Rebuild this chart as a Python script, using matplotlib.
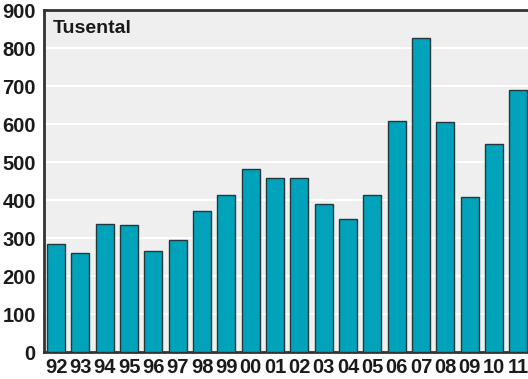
import numpy as np
import matplotlib
matplotlib.use('Agg')
import matplotlib.pyplot as plt

# years (two-digit labels) and values in thousands
years = ["92", "93", "94", "95", "96", "97", "98", "99", "00", "01",
         "02", "03", "04", "05", "06", "07", "08", "09", "10", "11"]
values = [284, 260, 337, 334, 266, 295, 371, 413, 481, 458,
          458, 389, 350, 413, 608, 826, 605, 408, 547, 689]
yticks = [0, 100, 200, 300, 400, 500, 600, 700, 800, 900]

plt.rcParams['font.family'] = ['Liberation Sans', 'DejaVu Sans']

fig = plt.figure(figsize=(5.28, 3.79), dpi=100)
ax = fig.add_axes([44 / 528, 27 / 379, 1 - 44 / 528, 342 / 379])
ax.set_facecolor('#efefef')

x = np.arange(len(years))
ax.bar(x, values, width=0.74, color='#00a3b9', edgecolor='#23383d', linewidth=1.0, zorder=3)

ax.set_ylim(0, 900)
ax.set_xlim(-0.5, len(years) - 0.6)
ax.set_yticks(yticks)
ax.yaxis.grid(True, color='white', linewidth=1.5, zorder=1)
ax.set_axisbelow(True)

ax.set_xticks(x)
ax.set_xticklabels(years)
ax.tick_params(axis='both', length=0, labelsize=14.5, colors='#1a1a1a')
ax.tick_params(axis='x', pad=4)
ax.tick_params(axis='y', pad=6)
for lab in ax.get_xticklabels() + ax.get_yticklabels():
    lab.set_fontweight('bold')

for side in ['left', 'top', 'bottom']:
    ax.spines[side].set_color('#333333')
    ax.spines[side].set_linewidth(2)
ax.spines['right'].set_visible(False)

ax.text(0.018, 0.97, "Tusental", transform=ax.transAxes, fontsize=14,
        fontweight='bold', color='#1a1a1a', va='top', ha='left')

fig.savefig('out.png', dpi=100)
